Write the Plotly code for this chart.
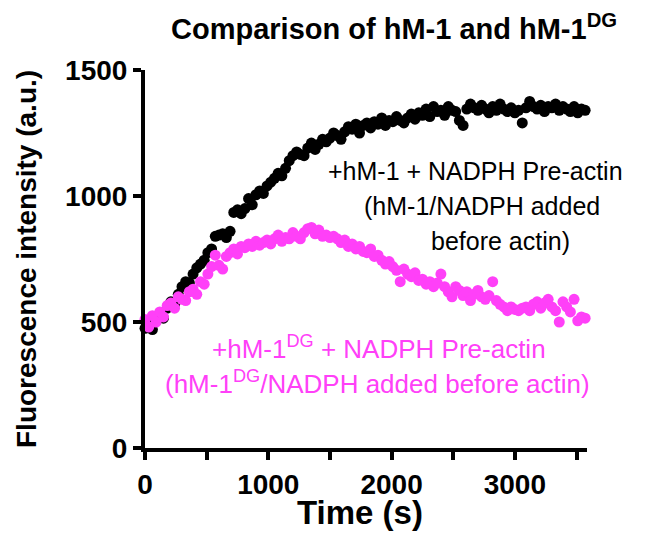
import plotly.graph_objects as go

time_s = [30 * i for i in range(120)]

hm1_values = [
    475, 490, 470, 505, 530, 515, 555, 580, 570, 610,
    640, 660, 655, 690, 715, 730, 745, 775, 790, 840,
    845, 850, 835, 860, 935, 945, 930, 950, 990, 965,
    1005, 1020, 1010, 1040, 1055, 1070, 1090, 1080, 1110, 1140,
    1160, 1175, 1165, 1160, 1190, 1210, 1185, 1205, 1225, 1215,
    1230, 1250, 1240, 1225, 1255, 1275, 1265, 1285, 1250, 1280,
    1290, 1270, 1295, 1285, 1310, 1280, 1300, 1295, 1315, 1300,
    1290, 1310, 1325, 1305, 1330, 1320, 1345, 1315, 1355, 1335,
    1340, 1320, 1355, 1340, 1335, 1300, 1280, 1345, 1365, 1350,
    1340, 1360, 1345, 1330, 1355, 1340, 1365, 1345, 1335, 1350,
    1330, 1340, 1290, 1350, 1375, 1355, 1345, 1360, 1335, 1355,
    1350, 1365, 1340, 1355, 1345, 1335, 1355, 1330, 1345, 1340,
]

hm1dg_values = [
    510, 480, 525, 500, 540, 520, 565, 575, 555, 600,
    590, 585, 620, 630, 610, 660, 650, 690, 720, 765,
    725, 710, 760, 775, 790, 770, 800, 795, 810, 800,
    820, 805, 815, 825, 810, 830, 845, 820, 835, 830,
    855, 840, 830, 855, 870, 875, 850, 865, 840, 845,
    835, 840, 830, 815, 825, 800, 810, 790, 800, 780,
    775, 790, 760, 765, 745, 730, 740, 720, 705, 660,
    710, 690, 680, 695, 665, 670, 650, 660, 640, 655,
    690, 640, 620, 600, 640, 625, 605, 620, 585, 610,
    625, 600, 590, 605, 660, 585, 570, 560, 545, 560,
    550, 545, 555, 560, 545, 570, 580, 555, 575, 590,
    560, 545, 500, 580, 560, 540, 590, 505, 520, 515,
]

x_ticks = [0, 1000, 2000, 3000]
y_ticks = [0, 500, 1000, 1500]

title_text = "<b>Comparison of hM-1 and hM-1<sup>DG</sup></b>"
y_title = "<b>Fluorescence intensity (a.u.)</b>"
x_title = "<b>Time (s)</b>"
hm1_label = ["+hM-1 + NADPH Pre-actin", "(hM-1/NADPH added", "before actin)"]
hm1dg_label = ["+hM-1<sup>DG</sup> + NADPH Pre-actin",
               "(hM-1<sup>DG</sup>/NADPH added before actin)"]

BLACK = "#000000"
PINK = "#FF40F8"
FONT = "Liberation Sans, Arial, sans-serif"

fig = go.Figure()
fig.add_trace(go.Scatter(x=time_s, y=hm1_values, mode="markers",
                         marker=dict(color=BLACK, size=11, line=dict(width=0)),
                         cliponaxis=False, showlegend=False))
fig.add_trace(go.Scatter(x=time_s, y=hm1dg_values, mode="markers",
                         marker=dict(color=PINK, size=11, line=dict(width=0)),
                         cliponaxis=False, showlegend=False))

axis_common = dict(showgrid=False, zeroline=False, showline=True, linecolor="black",
                   linewidth=4, ticks="outside", ticklen=8, tickwidth=3.5, tickcolor="black",
                   tickfont=dict(family=FONT, size=28, color="black", weight="bold"))

fig.update_xaxes(range=[0, 3585], tickvals=x_ticks, ticktext=[str(v) for v in x_ticks],
                 minor=dict(dtick=500, tick0=0, ticks="outside", ticklen=8, tickwidth=3.5,
                            tickcolor="black"),
                 **axis_common)
fig.update_yaxes(range=[0, 1500], tickvals=y_ticks, ticktext=[str(v) for v in y_ticks],
                 **axis_common)


def ann(text, x, y, size, color="black", angle=0):
    fig.add_annotation(text=text, x=x, y=y, xref="paper", yref="paper", showarrow=False,
                       xanchor="center", yanchor="middle", align="center", textangle=angle,
                       font=dict(family=FONT, size=size, color=color))


# plot area in picture pixels: x 145..587, y 70..448
def px(xp):
    return (xp - 145) / 442


def py(yp):
    return (448 - yp) / 378


ann(title_text, px(394), py(27), 29)
ann(y_title, px(26), py(259), 28, angle=-90)
ann(x_title, px(360), py(513), 33)

for line, cx, cy in zip(hm1_label, [475, 482, 500], [171, 206, 241]):
    ann(line, px(cx), py(cy), 25, BLACK)
for line, cx, cy in zip(hm1dg_label, [379, 377], [347, 382]):
    ann(line, px(cx), py(cy), 26, PINK)

# the page body adds an 8 px offset, so margins are shifted to compensate
fig.update_layout(width=649, height=538, margin=dict(l=137, r=70, t=62, b=98),
                  plot_bgcolor="white", paper_bgcolor="white")

fig.write_html("out.html")
